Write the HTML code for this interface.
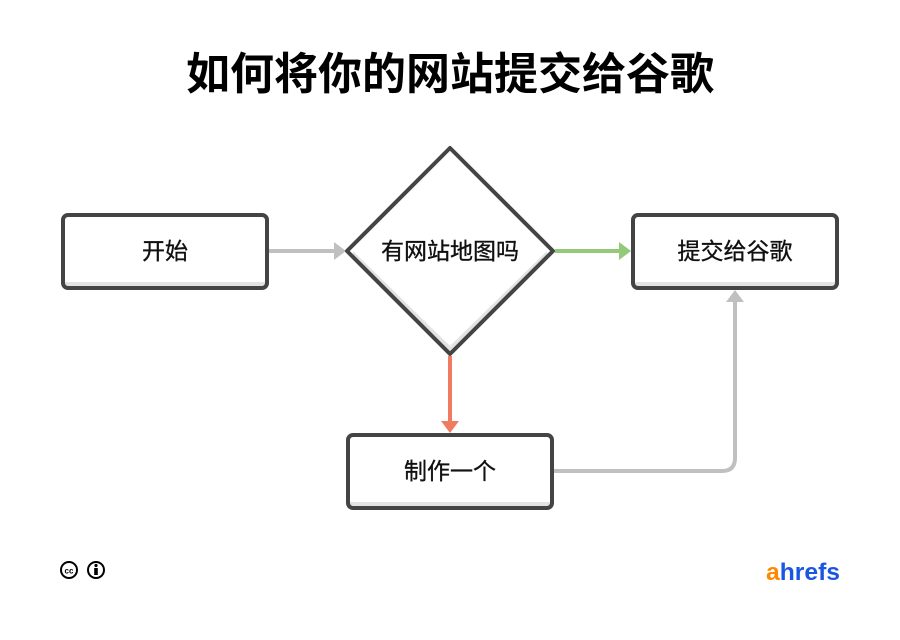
<!DOCTYPE html>
<html><head><meta charset="utf-8"><style>
html,body{margin:0;padding:0;background:#fff;}
body{width:900px;height:640px;position:relative;overflow:hidden;font-family:"Liberation Sans","Noto Sans CJK SC",sans-serif;}
.t{position:absolute;left:0;width:900px;top:47px;text-align:center;font-size:44px;font-weight:bold;line-height:56px;color:#000;}
</style></head><body>
<div class="t">如何将你的网站提交给谷歌</div>
<svg width="900" height="640" style="position:absolute;left:0;top:0">
<g font-family="Liberation Sans, Noto Sans CJK SC, sans-serif" font-size="23" text-anchor="middle" fill="#111" stroke="#111" stroke-width="0.35">
<line x1="269" y1="251" x2="336" y2="251" stroke="#c0c0c0" stroke-width="4"/>
<polygon points="334,242 346,251 334,260" fill="#c0c0c0" stroke="none"/>
<line x1="555" y1="251" x2="621" y2="251" stroke="#94c97a" stroke-width="4"/>
<polygon points="619,242 631,251 619,260" fill="#94c97a" stroke="none"/>
<line x1="450" y1="356" x2="450" y2="423" stroke="#f07a62" stroke-width="4"/>
<polygon points="441,421 450,433 459,421" fill="#f07a62" stroke="none"/>
<path d="M554 471 H722 Q735 471 735 458 V300" fill="none" stroke="#c0c0c0" stroke-width="4"/>
<polygon points="726,302 735,290 744,302" fill="#c0c0c0" stroke="none"/>
<g>
<rect x="63" y="215" width="204" height="73" rx="5" fill="#fff" stroke="none"/>
<rect x="63" y="282" width="204" height="5" fill="#e3e3e3" stroke="none"/>
<rect x="63" y="215" width="204" height="73" rx="5" fill="none" stroke="#444" stroke-width="4"/>
<text x="165" y="259">开始</text>
</g>
<g>
<rect x="633" y="215" width="204" height="73" rx="5" fill="#fff" stroke="none"/>
<rect x="633" y="282" width="204" height="5" fill="#e3e3e3" stroke="none"/>
<rect x="633" y="215" width="204" height="73" rx="5" fill="none" stroke="#444" stroke-width="4"/>
<text x="735" y="259">提交给谷歌</text>
</g>
<g>
<rect x="348" y="435" width="204" height="73" rx="5" fill="#fff" stroke="none"/>
<rect x="348" y="502" width="204" height="5" fill="#e3e3e3" stroke="none"/>
<rect x="348" y="435" width="204" height="73" rx="5" fill="none" stroke="#444" stroke-width="4"/>
<text x="450" y="479">制作一个</text>
</g>
<g>
<polygon points="450,148 553,251 450,354 347,251" fill="#fff" stroke="none"/>
<polygon points="353,257 450,354 547,257 547,251 450,346 353,251" fill="#e3e3e3" stroke="none"/>
<polygon points="450,148 553,251 450,354 347,251" fill="none" stroke="#444" stroke-width="4" stroke-linejoin="round"/>
<text x="450" y="259">有网站地图吗</text>
</g>
</g>
<circle cx="69" cy="570" r="8" fill="#fff" stroke="#000" stroke-width="2"/>
<text x="69" y="573.5" font-family="Liberation Sans, sans-serif" font-size="8" font-weight="bold" text-anchor="middle">cc</text>
<circle cx="96" cy="570" r="8" fill="#fff" stroke="#000" stroke-width="2"/>
<circle cx="96" cy="565.5" r="1.6" fill="#000"/>
<rect x="94.2" y="568" width="3.6" height="7" fill="#000"/>
<text x="766" y="580" font-family="Liberation Sans, sans-serif" font-size="24" font-weight="bold" textLength="74" lengthAdjust="spacingAndGlyphs"><tspan fill="#ff8800">a</tspan><tspan fill="#1a56e0">hrefs</tspan></text>
</svg>
</body></html>
